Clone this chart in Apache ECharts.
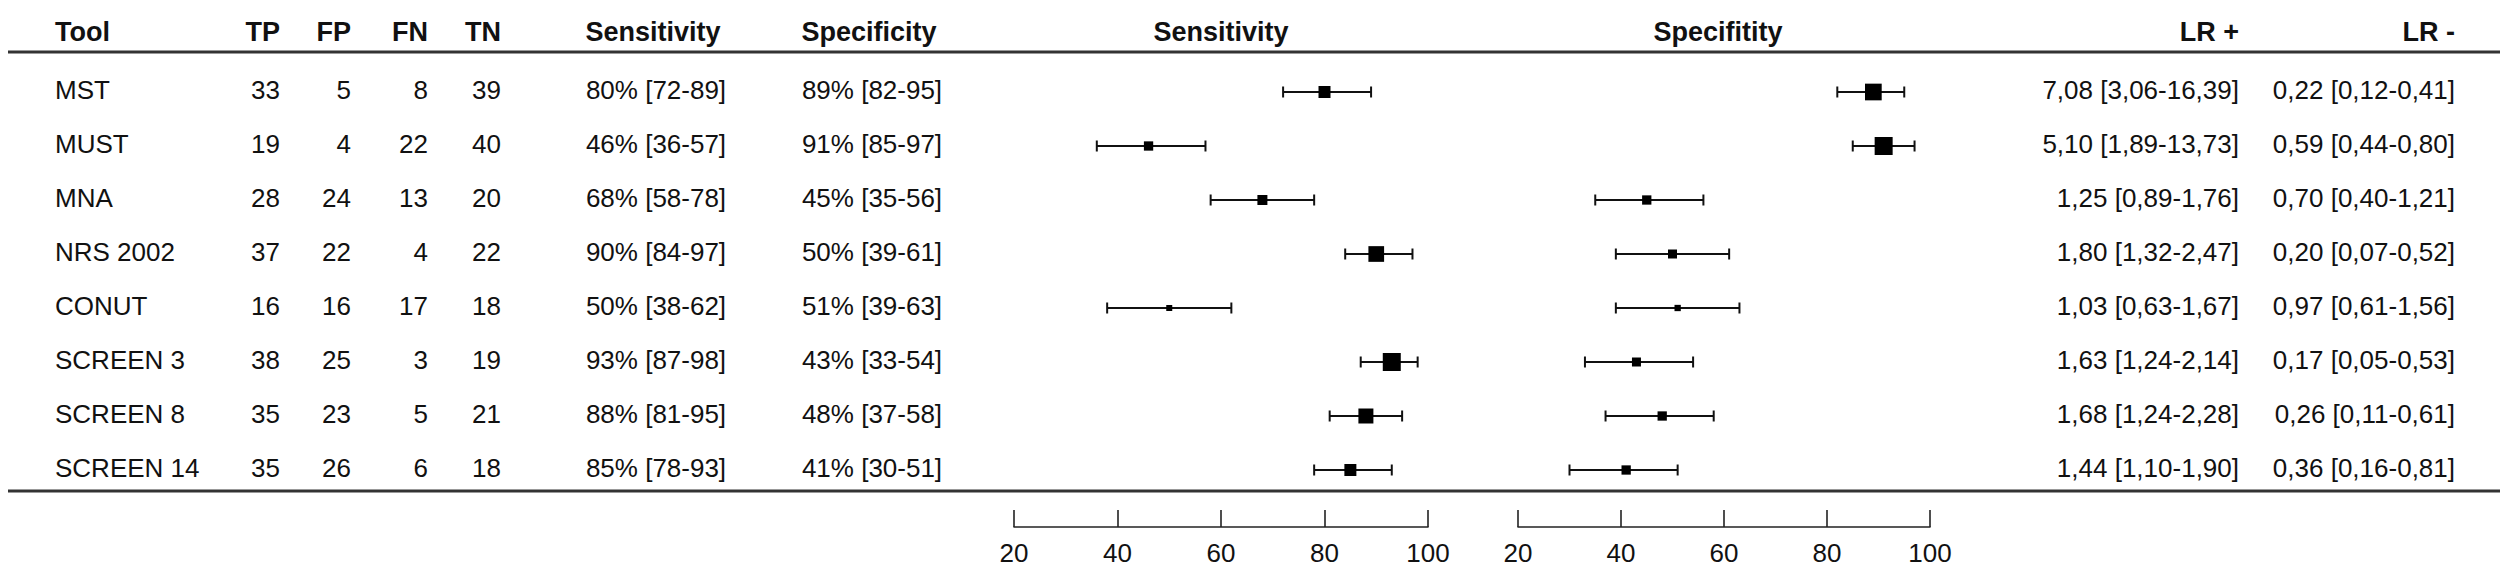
<!DOCTYPE html>
<html>
<head>
<meta charset="utf-8">
<script src="https://cdn.jsdelivr.net/npm/echarts@6/dist/echarts.min.js"></script>
<style>
html,body{margin:0;padding:0;background:#fff;}
#c{width:2508px;height:577px;}
</style>
</head>
<body>
<div id="c"></div>
<script>
// ---------------- data ----------------
const tools = ['MST','MUST','MNA','NRS 2002','CONUT','SCREEN 3','SCREEN 8','SCREEN 14'];
const tp = [33,19,28,37,16,38,35,35];
const fp = [5,4,24,22,16,25,23,26];
const fn = [8,22,13,4,17,3,5,6];
const tn = [39,40,20,22,18,19,21,18];
const sens   = [80,46,68,90,50,93,88,85];
const sensLo = [72,36,58,84,38,87,81,78];
const sensHi = [89,57,78,97,62,98,95,93];
const spec   = [89,91,45,50,51,43,48,41];
const specLo = [82,85,35,39,39,33,37,30];
const specHi = [95,97,56,61,63,54,58,51];
// relative study weights
const sensWeight = [12,9.3,10,15.7,6,18,15,12];
const specWeight = [16.7,18,9.3,9,6.3,9,9.3,9.3];
const lrPos   = [7.08,5.10,1.25,1.80,1.03,1.63,1.68,1.44];
const lrPosLo = [3.06,1.89,0.89,1.32,0.63,1.24,1.24,1.10];
const lrPosHi = [16.39,13.73,1.76,2.47,1.67,2.14,2.28,1.90];
const lrNeg   = [0.22,0.59,0.70,0.20,0.97,0.17,0.26,0.36];
const lrNegLo = [0.12,0.44,0.40,0.07,0.61,0.05,0.11,0.16];
const lrNegHi = [0.41,0.80,1.21,0.52,1.56,0.53,0.61,0.81];
const axisTicks = [20,40,60,80,100];
const headers = ['Tool','TP','FP','FN','TN','Sensitivity','Specificity','Sensitivity','Specifitity','LR +','LR -'];

// ---------------- layout / style ----------------
const W = 2508, H = 577;
const FONT = '"Liberation Sans", Arial, Helvetica, sans-serif';
const FS = 26, FSB = 27;
const TXT = '#111';
const gridTop = 65, gridBottom = 80;
const headerY = 32;
const textDy = -2;
const boxScale = 1;

const fmt2 = v => v.toFixed(2).replace('.', ',');
const pct = (v, lo, hi) => v + '% [' + lo + '-' + hi + ']';
const lrTxt = (v, lo, hi) => fmt2(v) + ' [' + fmt2(lo) + '-' + fmt2(hi) + ']';

const columns = [
  {x: 55,   align: 'left',   text: i => tools[i]},
  {x: 280,  align: 'right',  text: i => String(tp[i])},
  {x: 351,  align: 'right',  text: i => String(fp[i])},
  {x: 428,  align: 'right',  text: i => String(fn[i])},
  {x: 501,  align: 'right',  text: i => String(tn[i])},
  {x: 656,  align: 'center', text: i => pct(sens[i], sensLo[i], sensHi[i])},
  {x: 872,  align: 'center', text: i => pct(spec[i], specLo[i], specHi[i])},
  {x: 2239, align: 'right',  text: i => lrTxt(lrPos[i], lrPosLo[i], lrPosHi[i])},
  {x: 2455, align: 'right',  text: i => lrTxt(lrNeg[i], lrNegLo[i], lrNegHi[i])}
];
const headerPos = [
  {x: 55, align: 'left'}, {x: 280, align: 'right'}, {x: 351, align: 'right'},
  {x: 428, align: 'right'}, {x: 501, align: 'right'}, {x: 653, align: 'center'},
  {x: 869, align: 'center'}, {x: 1221, align: 'center'}, {x: 1718, align: 'center'},
  {x: 2239, align: 'right'}, {x: 2455, align: 'right'}
];

const rows = tools.map((_, i) => i);

const chart = echarts.init(document.getElementById('c'), null, {renderer: 'svg', width: W, height: H});

function textSeries(col) {
  return {
    type: 'custom', xAxisIndex: 0, yAxisIndex: 0, silent: true,
    data: rows.map(i => [i]),
    renderItem: function (params, api) {
      const i = api.value(0);
      const p = api.coord([col.x, i]);
      return {
        type: 'text', x: p[0], y: p[1] + textDy,
        style: {text: col.text(i), fill: TXT, font: FS + 'px ' + FONT, align: col.align, verticalAlign: 'middle'}
      };
    }
  };
}

function forestSeries(axisIdx, est, lo, hi, wt) {
  return {
    type: 'custom', xAxisIndex: axisIdx, yAxisIndex: axisIdx, silent: true,
    data: rows.map(i => [i, lo[i], hi[i], est[i], wt[i]]),
    encode: {x: [1, 2, 3], y: 0},
    renderItem: function (params, api) {
      const i = api.value(0);
      const a = api.coord([api.value(1), i]);
      const b = api.coord([api.value(2), i]);
      const c = api.coord([api.value(3), i]);
      const s = api.value(4) * boxScale;
      const cap = 5.5;
      const ls = {stroke: '#111', lineWidth: 2};
      return {
        type: 'group',
        children: [
          {type: 'line', shape: {x1: a[0], y1: a[1], x2: b[0], y2: b[1]}, style: ls},
          {type: 'line', shape: {x1: a[0], y1: a[1] - cap, x2: a[0], y2: a[1] + cap}, style: ls},
          {type: 'line', shape: {x1: b[0], y1: b[1] - cap, x2: b[0], y2: b[1] + cap}, style: ls},
          {type: 'rect', shape: {x: c[0] - s / 2, y: c[1] - s / 2, width: s, height: s}, style: {fill: '#000'}}
        ]
      };
    }
  };
}

function forestX(gridIndex) {
  return {
    type: 'value', gridIndex: gridIndex, min: 20, max: 100, interval: 20,
    position: 'bottom', offset: 30,
    axisLine: {show: true, lineStyle: {color: '#222', width: 1.6}},
    axisTick: {show: true, inside: true, length: 17, lineStyle: {color: '#222', width: 1.6}},
    axisLabel: {show: true, fontSize: FS, fontFamily: FONT, color: TXT, margin: 13,
                formatter: v => axisTicks.indexOf(v) >= 0 ? String(v) : ''},
    splitLine: {show: false}
  };
}
function catY(gridIndex) {
  return {type: 'category', gridIndex: gridIndex, data: rows, inverse: true, show: false,
          axisLine: {show: false}, axisTick: {show: false}, axisLabel: {show: false}, splitLine: {show: false}};
}

const graphics = [
  {type: 'line', shape: {x1: 8, y1: 52, x2: 2500, y2: 52}, style: {stroke: '#333', lineWidth: 3}},
  {type: 'line', shape: {x1: 8, y1: 491, x2: 2500, y2: 491}, style: {stroke: '#333', lineWidth: 3}}
].concat(headers.map((h, k) => ({
  type: 'text', x: headerPos[k].x, y: headerY,
  style: {text: h, fill: TXT, font: 'bold ' + FSB + 'px ' + FONT, align: headerPos[k].align, verticalAlign: 'middle'}
})));

chart.setOption({
  animation: false,
  backgroundColor: '#fff',
  grid: [
    {left: 0, right: 0, top: gridTop, bottom: gridBottom},
    {left: 1014, width: 414, top: gridTop, bottom: gridBottom},
    {left: 1518, width: 412, top: gridTop, bottom: gridBottom}
  ],
  xAxis: [
    {type: 'value', gridIndex: 0, min: 0, max: W, show: false, splitLine: {show: false}},
    forestX(1),
    forestX(2)
  ],
  yAxis: [catY(0), catY(1), catY(2)],
  graphic: graphics,
  series: columns.map(textSeries).concat([
    forestSeries(1, sens, sensLo, sensHi, sensWeight),
    forestSeries(2, spec, specLo, specHi, specWeight)
  ])
});
</script>
</body>
</html>
